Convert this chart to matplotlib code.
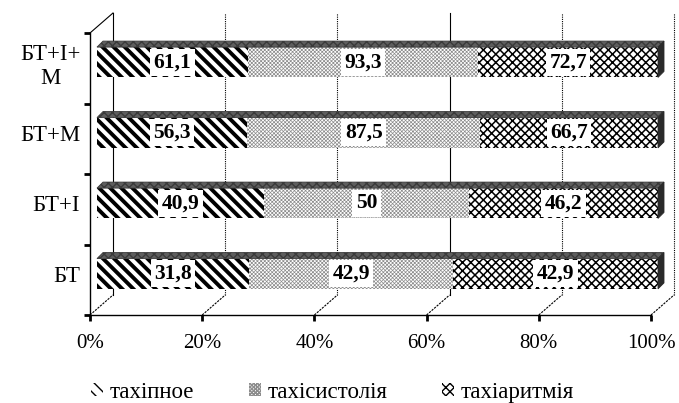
import numpy as np
import matplotlib
matplotlib.use('Agg')
import matplotlib.pyplot as plt
from matplotlib.patches import Patch, Polygon
from matplotlib.transforms import ScaledTranslation

plt.rcParams['font.family'] = ['Liberation Serif', 'DejaVu Serif']

# categories, bottom to top
categories = ['БТ', 'БТ+І', 'БТ+М', 'БТ+І+\nМ']
series_names = ['тахіпное', 'тахісистолія', 'тахіаритмія']
tachypnoe = [31.8, 40.9, 56.3, 61.1]
tachysystole = [42.9, 50.0, 87.5, 93.3]
tachyarrhythmia = [42.9, 46.2, 66.7, 72.7]
x_ticks = [0, 20, 40, 60, 80, 100]

# look of each series: hatch, hatch colour, hatch width
styles = [('\\' * 3, 'black', 2.8),
          ('x' * 9, '#8c8c8c', 0.5),
          ('x' * 4, 'black', 1.1)]

W, H, DPI = 679, 403, 100
# front plane in pixels
AX_L, AX_R, AX_T, AX_B = 90, 651, 33, 315
DEPTH_X, DEPTH_Y = 23, 20      # 3d depth of the back wall
BAR_DX, BAR_DY = 7, 6          # bars sit a little behind the front plane
TOP_DX, TOP_DY = 6, 6          # top face of each bar
BAR_H = 0.43

fig = plt.figure(figsize=(W / DPI, H / DPI), dpi=DPI)
ax = fig.add_axes([AX_L / W, (H - AX_B) / H, (AX_R - AX_L) / W, (AX_B - AX_T) / H])
ax.set_xlim(0, 100)
ax.set_ylim(-0.5, len(categories) - 0.5)

# pixel -> data units
px_x = 100 / (AX_R - AX_L)
px_y = len(categories) / (AX_B - AX_T)

back = ax.transData + ScaledTranslation(DEPTH_X / DPI, DEPTH_Y / DPI, fig.dpi_scale_trans)
bar_tr = ax.transData + ScaledTranslation(BAR_DX / DPI, BAR_DY / DPI, fig.dpi_scale_trans)

# back wall gridlines
y0, y1 = ax.get_ylim()
for i, xt in enumerate(x_ticks):
    ls = '-' if xt in (0, 60) else (0, (1, 1))
    ax.plot([xt, xt], [y0, y1], color='black', lw=0.8, ls=ls,
            transform=back, clip_on=False, zorder=0)
    # floor diagonals
    ax.plot([xt, xt + DEPTH_X * px_x], [y0, y0 + DEPTH_Y * px_y], color='black',
            lw=0.8, ls=(0, (2, 1)), clip_on=False, zorder=0)
ax.plot([0, DEPTH_X * px_x], [y1, y1 + DEPTH_Y * px_y], color='black',
        lw=0.8, clip_on=False, zorder=0)

# stacked 100% bars
values = np.array([tachypnoe, tachysystole, tachyarrhythmia])
shares = values / values.sum(axis=0) * 100
ypos = np.arange(len(categories))
left = np.zeros(len(categories))
for k, (hatch, hcol, hlw) in enumerate(styles):
    with plt.rc_context({'hatch.linewidth': hlw}):
        bars = ax.barh(ypos, shares[k], left=left, height=BAR_H, color='white',
                       edgecolor=hcol, hatch=hatch, linewidth=0,
                       transform=bar_tr, zorder=2, clip_on=False)
    for b in bars:
        if hasattr(b, 'set_hatch_linewidth'):
            b.set_hatch_linewidth(hlw)
    for j in range(len(categories)):
        v = values[k, j]
        txt = f'{v:g}'.replace('.', ',')
        ax.text(left[j] + shares[k, j] / 2, ypos[j], txt, transform=bar_tr,
                ha='center', va='center', fontsize=15.5, fontweight='bold',
                bbox=dict(facecolor='white', edgecolor='none', pad=2.5),
                zorder=4, clip_on=False)
    left = left + shares[k]

# top and side faces of the bars
tdx, tdy = TOP_DX * px_x, TOP_DY * px_y
for j in range(len(categories)):
    yt = ypos[j] + BAR_H / 2
    yb = ypos[j] - BAR_H / 2
    top = Polygon([(0, yt), (tdx, yt + tdy), (100 + tdx, yt + tdy), (100, yt)],
                  closed=True, facecolor='#5e5e5e', edgecolor='#3a3a3a', lw=0.6,
                  hatch='xxxx', transform=bar_tr, zorder=3, clip_on=False)
    side = Polygon([(100, yb), (100, yt), (100 + tdx, yt + tdy), (100 + tdx, yb + tdy)],
                   closed=True, facecolor='#2a2a2a', edgecolor='#2a2a2a', lw=0.6,
                   transform=bar_tr, zorder=3, clip_on=False)
    ax.add_patch(top)
    ax.add_patch(side)

# axes
for s in ['top', 'right']:
    ax.spines[s].set_visible(False)
ax.spines['left'].set_linewidth(1.0)
ax.spines['bottom'].set_linewidth(1.0)
ax.set_xticks(x_ticks)
ax.set_xticklabels([f'{t}%' for t in x_ticks])
ax.tick_params(axis='x', length=4, width=2, pad=9.5, labelsize=15)
ax.set_yticks(np.arange(-0.5, len(categories)))
ax.set_yticklabels([])
ax.tick_params(axis='y', which='major', length=4, width=2)
ax.set_yticks(ypos + BAR_DY * px_y, minor=True)
ax.set_yticklabels(categories, minor=True, multialignment='center')
ax.tick_params(axis='y', which='minor', length=0, pad=7, labelsize=16.5)

handles = [Patch(facecolor='white', edgecolor=c, hatch=h, linewidth=0)
           for h, c, _ in styles]
fig.legend(handles, series_names, loc='lower center', bbox_to_anchor=(0.49, -0.05),
           ncol=3, frameon=False, fontsize=16.5, handlelength=0.5, handleheight=0.5,
           handletextpad=0.3, columnspacing=2.4)

fig.savefig('out.png', dpi=DPI)
